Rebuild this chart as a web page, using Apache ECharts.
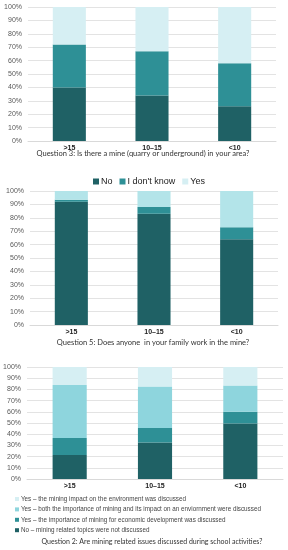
<!DOCTYPE html>
<html>
<head>
<meta charset="utf-8">
<script src="https://cdn.jsdelivr.net/npm/echarts@6/dist/echarts.min.js"></script>
<style>html,body{margin:0;padding:0;background:#fff}#c{width:288px;height:550px}</style>
</head>
<body>
<div id="c"></div>
<script>
var categories = ['>15', '10–15', '<10'];
var yTicks = [0, 10, 20, 30, 40, 50, 60, 70, 80, 90, 100];

var q3No = [40, 34, 26];
var q3Unknown = [32, 33, 32];
var q3Yes = [28, 33, 42];

var q5No = [92, 83, 64];
var q5Unknown = [1.5, 5, 9];
var q5Yes = [6.5, 12, 27];

var q2No = [21.5, 32.5, 49.5];
var q2Economic = [15, 13, 10.5];
var q2Both = [47.5, 37, 23.5];
var q2Environment = [16, 17.5, 16.5];

var legend1Names = ['No', "I don't know", 'Yes'];
var legend2Names = [
  'Yes – the mining impact on the environment was discussed',
  'Yes – both the importance of mining and its impact on an enviornment were discussed',
  'Yes – the importance of mining for economic development was discussed',
  'No – mining related topics were not discussed'
];

var titles = [
  'Question 3: Is there a mine (quarry or underground) in your area?',
  'Question 5: Does anyone  in your family work in the mine?',
  'Question 2: Are mining related issues discussed during school activities?'
];

var C_DARK = '#1f6165', C_MID = '#2e9096', C_PALE = '#d6eff3', C_LIGHT = '#b3e4e9', C_BOTH = '#8ed5dd';

var grids = [
  {left: 28, right: 12, top: 7, height: 134},
  {left: 30, right: 10, top: 191, height: 134},
  {left: 27, right: 5, top: 367, height: 112}
];

function xAx(i) {
  return {
    type: 'category', gridIndex: i, data: categories,
    axisLine: {lineStyle: {color: '#d9d9d9'}},
    axisTick: {show: false},
    axisLabel: {fontFamily: 'Liberation Sans', fontWeight: 'bold', fontSize: 7, color: '#222', margin: 4}
  };
}
function yAx(i) {
  return {
    type: 'value', gridIndex: i, min: yTicks[0], max: yTicks[yTicks.length - 1],
    interval: yTicks[1] - yTicks[0],
    axisLine: {show: false}, axisTick: {show: false},
    axisLabel: {formatter: '{value}%', fontFamily: 'Liberation Sans', fontSize: 7, color: '#595959', margin: 6},
    splitLine: {lineStyle: {color: '#e3e3e3', width: 1}}
  };
}
function bar(name, data, i, color, stack) {
  return {
    name: name, type: 'bar', stack: stack, xAxisIndex: i, yAxisIndex: i,
    data: data, barWidth: '40%', itemStyle: {color: color}, emphasis: {disabled: true}
  };
}

var option = {
  animation: false,
  grid: grids,
  xAxis: [xAx(0), xAx(1), xAx(2)],
  yAxis: [yAx(0), yAx(1), yAx(2)],
  legend: [
    {
      data: legend1Names, left: 88, top: 172, orient: 'horizontal',
      itemWidth: 6, itemHeight: 6, itemGap: 7, icon: 'rect',
      textStyle: {fontFamily: 'Liberation Sans', fontSize: 9, color: '#222', padding: [0, 0, 0, -3]},
      selectedMode: false
    },
    {
      data: legend2Names, left: 15, top: 494, padding: 0, orient: 'vertical',
      itemWidth: 4, itemHeight: 4, itemGap: 0.4, icon: 'rect',
      textStyle: {fontFamily: 'Liberation Sans', fontSize: 6.3, color: '#444', lineHeight: 10, padding: [0, 0, 0, -3]},
      selectedMode: false
    }
  ],
  series: [
    bar(legend1Names[0], q3No, 0, C_DARK, 'q3'),
    bar(legend1Names[1], q3Unknown, 0, C_MID, 'q3'),
    bar(legend1Names[2], q3Yes, 0, C_PALE, 'q3'),
    bar(legend1Names[0], q5No, 1, C_DARK, 'q5'),
    bar(legend1Names[1], q5Unknown, 1, C_MID, 'q5'),
    bar(legend1Names[2], q5Yes, 1, C_LIGHT, 'q5'),
    bar(legend2Names[3], q2No, 2, C_DARK, 'q2'),
    bar(legend2Names[2], q2Economic, 2, C_MID, 'q2'),
    bar(legend2Names[1], q2Both, 2, C_BOTH, 'q2'),
    bar(legend2Names[0], q2Environment, 2, C_PALE, 'q2')
  ],
  graphic: [
    {type: 'text', x: 143, y: 154, style: {text: titles[0], textAlign: 'center', textVerticalAlign: 'middle', fontFamily: 'Lato', fontSize: 7.5, fill: '#333'}},
    {type: 'text', x: 153, y: 343, style: {text: titles[1], textAlign: 'center', textVerticalAlign: 'middle', fontFamily: 'Lato', fontSize: 7.5, fill: '#333'}},
    {type: 'text', x: 152, y: 542, style: {text: titles[2], textAlign: 'center', textVerticalAlign: 'middle', fontFamily: 'Lato', fontSize: 7, fill: '#333'}}
  ]
};

var chart = echarts.init(document.getElementById('c'), null, {renderer: 'canvas'});
chart.setOption(option);
</script>
</body>
</html>
